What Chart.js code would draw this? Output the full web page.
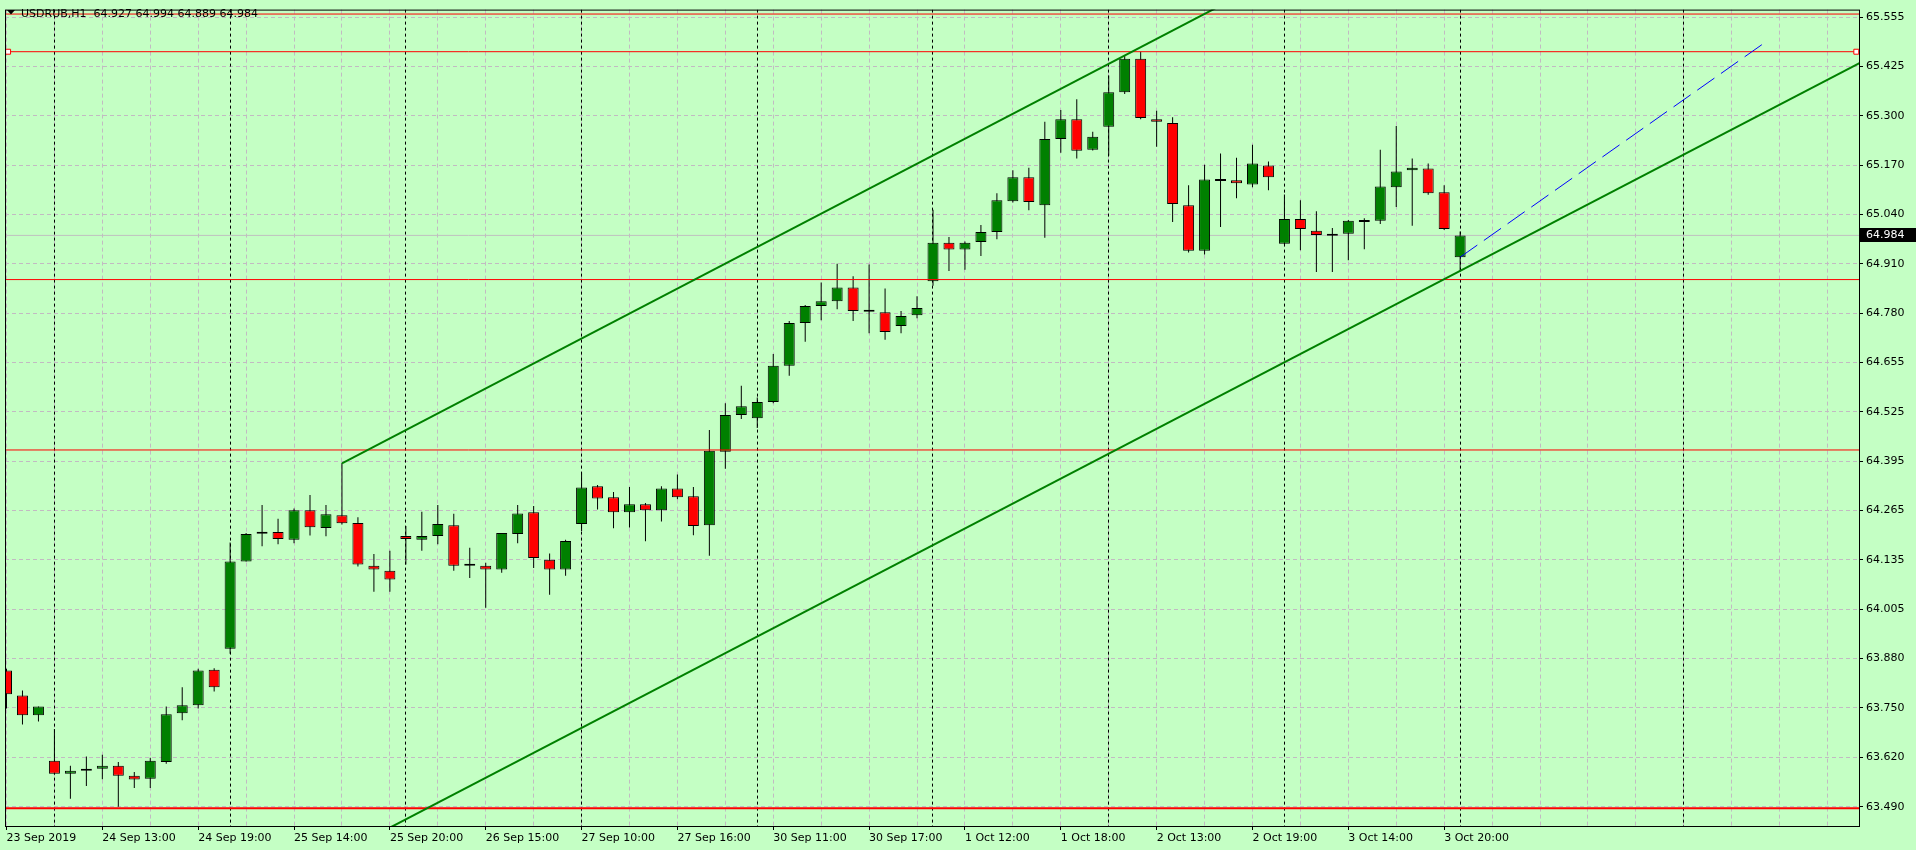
<!DOCTYPE html>
<html><head><meta charset="utf-8">
<script src="https://cdn.jsdelivr.net/npm/chart.js@4.4.1/dist/chart.umd.min.js"></script>
<style>html,body{margin:0;padding:0;background:#C4FFC4;overflow:hidden}canvas{display:block}</style>
</head><body>
<canvas id="c" width="1916" height="850"></canvas>
<script>
// ---------- data ----------
const symbolTitle = 'USDRUB,H1  64.927 64.994 64.889 64.984';
const opens = [63.846,63.781,63.729,63.610,63.576,63.584,63.589,63.597,63.571,63.563,
63.607,63.734,63.755,63.848,63.903,64.131,64.204,64.208,64.188,64.265,
64.219,64.252,64.232,64.120,64.107,64.198,64.188,64.198,64.226,64.120,
64.120,64.110,64.203,64.260,64.136,64.110,64.229,64.328,64.299,64.260,
64.281,64.265,64.322,64.302,64.226,64.418,64.514,64.506,64.548,64.643,
64.755,64.799,64.812,64.848,64.784,64.783,64.747,64.775,64.864,64.965,
64.947,64.967,64.993,65.073,65.136,65.063,65.236,65.288,65.208,65.268,
65.358,65.446,65.288,65.278,65.063,64.944,65.126,65.128,65.117,65.167,
64.962,65.027,64.996,64.983,64.988,65.019,65.022,65.110,65.154,65.159,
65.097,64.927];
const highs = [63.851,63.794,63.752,63.693,63.597,63.621,63.626,63.607,63.581,63.618,
63.752,63.802,63.851,63.852,64.181,64.206,64.279,64.243,64.270,64.305,
64.279,64.389,64.247,64.151,64.159,64.224,64.261,64.279,64.256,64.167,
64.128,64.206,64.279,64.276,64.152,64.188,64.364,64.331,64.313,64.326,
64.284,64.328,64.359,64.326,64.475,64.545,64.591,64.560,64.674,64.760,
64.802,64.861,64.910,64.877,64.908,64.845,64.786,64.825,65.051,64.980,
64.968,65.011,65.094,65.154,65.161,65.281,65.312,65.340,65.255,65.402,
65.455,65.464,65.310,65.293,65.115,65.169,65.198,65.187,65.221,65.177,
65.091,65.076,65.047,65.003,65.024,65.029,65.208,65.270,65.185,65.172,
65.115,64.994];
const lows = [63.747,63.705,63.713,63.574,63.511,63.544,63.562,63.490,63.539,63.539,
63.602,63.716,63.747,63.791,63.890,64.131,64.171,64.176,64.179,64.199,
64.197,64.228,64.118,64.052,64.052,64.123,64.159,64.176,64.107,64.088,
64.010,64.102,64.179,64.114,64.044,64.094,64.211,64.267,64.218,64.220,
64.184,64.236,64.294,64.200,64.146,64.374,64.504,64.480,64.545,64.617,
64.706,64.762,64.791,64.760,64.728,64.711,64.728,64.767,64.852,64.891,
64.894,64.930,64.974,65.070,65.050,64.978,65.200,65.185,65.206,65.192,
65.354,65.288,65.216,65.019,64.939,64.934,65.006,65.081,65.110,65.102,
64.960,64.945,64.888,64.888,64.919,64.948,65.014,65.058,65.009,65.090,
64.998,64.889];
const closes = [63.784,63.729,63.752,63.576,63.584,63.589,63.597,63.571,63.561,63.610,
63.732,63.755,63.846,63.802,64.131,64.203,64.205,64.190,64.265,64.221,
64.255,64.231,64.123,64.110,64.084,64.190,64.198,64.229,64.120,64.122,
64.110,64.206,64.257,64.140,64.110,64.185,64.325,64.296,64.260,64.281,
64.265,64.322,64.299,64.224,64.421,64.514,64.537,64.548,64.643,64.755,
64.799,64.812,64.848,64.786,64.785,64.731,64.773,64.794,64.965,64.947,
64.965,64.993,65.076,65.136,65.071,65.236,65.288,65.205,65.242,65.358,
65.446,65.291,65.281,65.066,64.944,65.130,65.127,65.120,65.172,65.136,
65.027,65.001,64.985,64.988,65.022,65.020,65.112,65.151,65.161,65.094,
65.001,64.984];

const timeLabels = ['23 Sep 2019','24 Sep 13:00','24 Sep 19:00','25 Sep 14:00','25 Sep 20:00',
  '26 Sep 15:00','27 Sep 10:00','27 Sep 16:00','30 Sep 11:00','30 Sep 17:00',
  '1 Oct 12:00','1 Oct 18:00','2 Oct 13:00','2 Oct 19:00','3 Oct 14:00','3 Oct 20:00'];
const timeLabelIdx = [0,6,12,18,24,30,36,42,48,54,60,66,72,78,84,90];
const priceLabels = ['65.555','65.425','65.300','65.170','65.040','64.910','64.780','64.655',
  '64.525','64.395','64.265','64.135','64.005','63.880','63.750','63.620','63.490'];
const separatorIdx = [3,14,25,36,47,58,69,80,91,105];

const bidPrice = 64.984;
const hLinePrices = [65.5628, 65.4643, 64.8684, 64.4228, 63.4861];
const hLineWidths = [1, 1, 1, 1, 2];
const selectedLinePrice = 65.4643;
const selectedHandleIdx = [0.1, 115.8];
const upperChannelIdx = [21, 80];
const upperChannelPrice = [64.388, 65.672];
const lowerChannelIdx = [21, 117];
const lowerChannelPrice = [63.370, 65.456];
const blueLineIdx = [91, 110];
const blueLinePrice = [64.927, 65.486];

// ---------- layout ----------
const X_MIN = -0.09375, X_MAX = 115.96875;
const Y_MAX = 65.57443, Y_MIN = 63.43947;
const GRID = '#C2BAC2';
const FONT = 'DejaVu Sans';

Chart.defaults.font.family = FONT;
Chart.defaults.font.size = 11;
Chart.defaults.color = '#000';

const candleIdx = opens.map((_, i) => i);
const gridIdx = [];
for (let v = 0; v <= 114; v += 3) gridIdx.push(v);

function bodyColor(ctx) {
  if (ctx.dataIndex === undefined) return '#008000';
  const d = closes[ctx.dataIndex] - opens[ctx.dataIndex];
  if (Math.abs(d) < 0.0025) return '#000000';
  return d > 0 ? '#008000' : '#FF0000';
}

const lineDs = (xs, ys, color, width, order, dash) => ({
  type: 'line',
  data: xs.map((x, i) => ({x, y: ys[i]})),
  borderColor: color, borderWidth: width, borderDash: dash || [],
  pointRadius: 0, fill: false, tension: 0, order, clip: 0
});

const datasets = [];
datasets.push(lineDs([X_MIN, X_MAX], [bidPrice, bidPrice], '#C0C0C0', 1, 20));
datasets.push({
  type: 'bar', data: candleIdx.map(i => ({x: i, y: [lows[i], highs[i]]})),
  backgroundColor: '#000', borderWidth: 0, grouped: false,
  maxBarThickness: 1, barThickness: 1, inflateAmount: 0, order: 11, clip: 0
});
datasets.push({
  type: 'bar', data: candleIdx.map(i => ({x: i, y: [opens[i], closes[i]]})),
  backgroundColor: bodyColor, borderColor: '#000', borderWidth: 1, borderSkipped: false,
  grouped: false, maxBarThickness: 11, barThickness: 11, minBarLength: 2,
  inflateAmount: 0, order: 10, clip: 0
});
hLinePrices.forEach((p, k) => datasets.push(lineDs([X_MIN, X_MAX], [p, p], '#FF0000', hLineWidths[k], 3)));
datasets.push(lineDs(upperChannelIdx, upperChannelPrice, '#008000', 2, 2));
datasets.push(lineDs(lowerChannelIdx, lowerChannelPrice, '#008000', 2, 2));
datasets.push(lineDs(blueLineIdx, blueLinePrice, '#0000FF', 1, 1, [21, 8]));
datasets.push({
  type: 'line', showLine: false,
  data: selectedHandleIdx.map(x => ({x, y: selectedLinePrice})),
  pointStyle: 'rect', pointRadius: 3.5, pointBackgroundColor: '#FFFFFF',
  pointBorderColor: '#FF0000', pointBorderWidth: 1, order: 0, clip: 0
});

const decor = {
  id: 'decor',
  beforeDatasetsDraw(chart) {
    const {ctx, chartArea: a, scales: {x}} = chart;
    ctx.save();
    ctx.beginPath(); ctx.rect(a.left, a.top, a.right - a.left, a.bottom - a.top); ctx.clip();
    ctx.strokeStyle = '#000'; ctx.lineWidth = 1; ctx.setLineDash([3, 3]);
    separatorIdx.forEach(v => {
      const px = Math.round(x.getPixelForValue(v) - 0.5) + 0.5;
      ctx.beginPath(); ctx.moveTo(px, a.top); ctx.lineTo(px, a.bottom); ctx.stroke();
    });
    ctx.restore();
  },
  afterDraw(chart) {
    const {ctx, chartArea: a, scales: {y}} = chart;
    ctx.save();
    ctx.strokeStyle = '#000'; ctx.lineWidth = 1; ctx.setLineDash([]);
    ctx.strokeRect(a.left + 0.5, a.top + 0.5, a.right - a.left, a.bottom - a.top);
    ctx.fillStyle = '#000';
    ctx.beginPath(); ctx.moveTo(7, 10); ctx.lineTo(15, 10); ctx.lineTo(11, 14.5); ctx.closePath(); ctx.fill();
    ctx.font = '11px "' + FONT + '"';
    ctx.textBaseline = 'alphabetic'; ctx.textAlign = 'left';
    ctx.fillText(symbolTitle, 21, 17);
    const py = y.getPixelForValue(bidPrice);
    ctx.fillStyle = '#000';
    ctx.fillRect(a.right + 1, Math.round(py) - 7, chart.width - a.right - 1, 14);
    ctx.fillStyle = '#FFFFFF';
    ctx.textBaseline = 'middle';
    ctx.fillText(bidPrice.toFixed(3), a.right + 7, py);
    ctx.restore();
  }
};

new Chart(document.getElementById('c'), {
  type: 'bar',
  data: {datasets},
  plugins: [decor],
  options: {
    responsive: false, animation: false, events: [],
    layout: {padding: {left: 2, top: 2, right: 0, bottom: 0}},
    plugins: {legend: {display: false}, tooltip: {enabled: false}, title: {display: false}},
    scales: {
      x: {
        type: 'linear', min: X_MIN, max: X_MAX, offset: false,
        grid: {color: GRID, lineWidth: 1, offset: false, drawTicks: true, tickLength: 4, tickWidth: 1,
          tickBorderDash: [],
          tickColor: c => (c.tick && timeLabelIdx.indexOf(c.tick.value) >= 0) ? '#000' : 'rgba(0,0,0,0)'},
        border: {display: false, dash: [4, 3]},
        ticks: {autoSkip: false, maxRotation: 0, minRotation: 0, align: 'start', padding: 2,
          color: '#000', font: {family: FONT, size: 11},
          callback: v => { const k = timeLabelIdx.indexOf(v); return k >= 0 ? timeLabels[k] : ''; }},
        afterBuildTicks: s => { s.ticks = gridIdx.map(v => ({value: v})); },
        afterFit: s => { s.height = 24; }
      },
      y: {
        type: 'linear', position: 'right', min: Y_MIN, max: Y_MAX, beginAtZero: false,
        grid: {color: GRID, lineWidth: 1, drawTicks: true, tickLength: 4, tickWidth: 1, tickColor: '#000', tickBorderDash: []},
        border: {display: false, dash: [4, 3]},
        ticks: {padding: 3, color: '#000', font: {family: FONT, size: 11},
          callback: (v, i) => priceLabels[i]},
        afterBuildTicks: s => {
          const top = parseFloat(priceLabels[0]), bot = parseFloat(priceLabels[priceLabels.length - 1]);
          const n = priceLabels.length;
          s.ticks = priceLabels.map((l, i) => ({value: top - i * (top - bot) / (n - 1)}));
        },
        afterFit: s => { s.width = 57; }
      }
    }
  }
});
</script>
</body></html>
